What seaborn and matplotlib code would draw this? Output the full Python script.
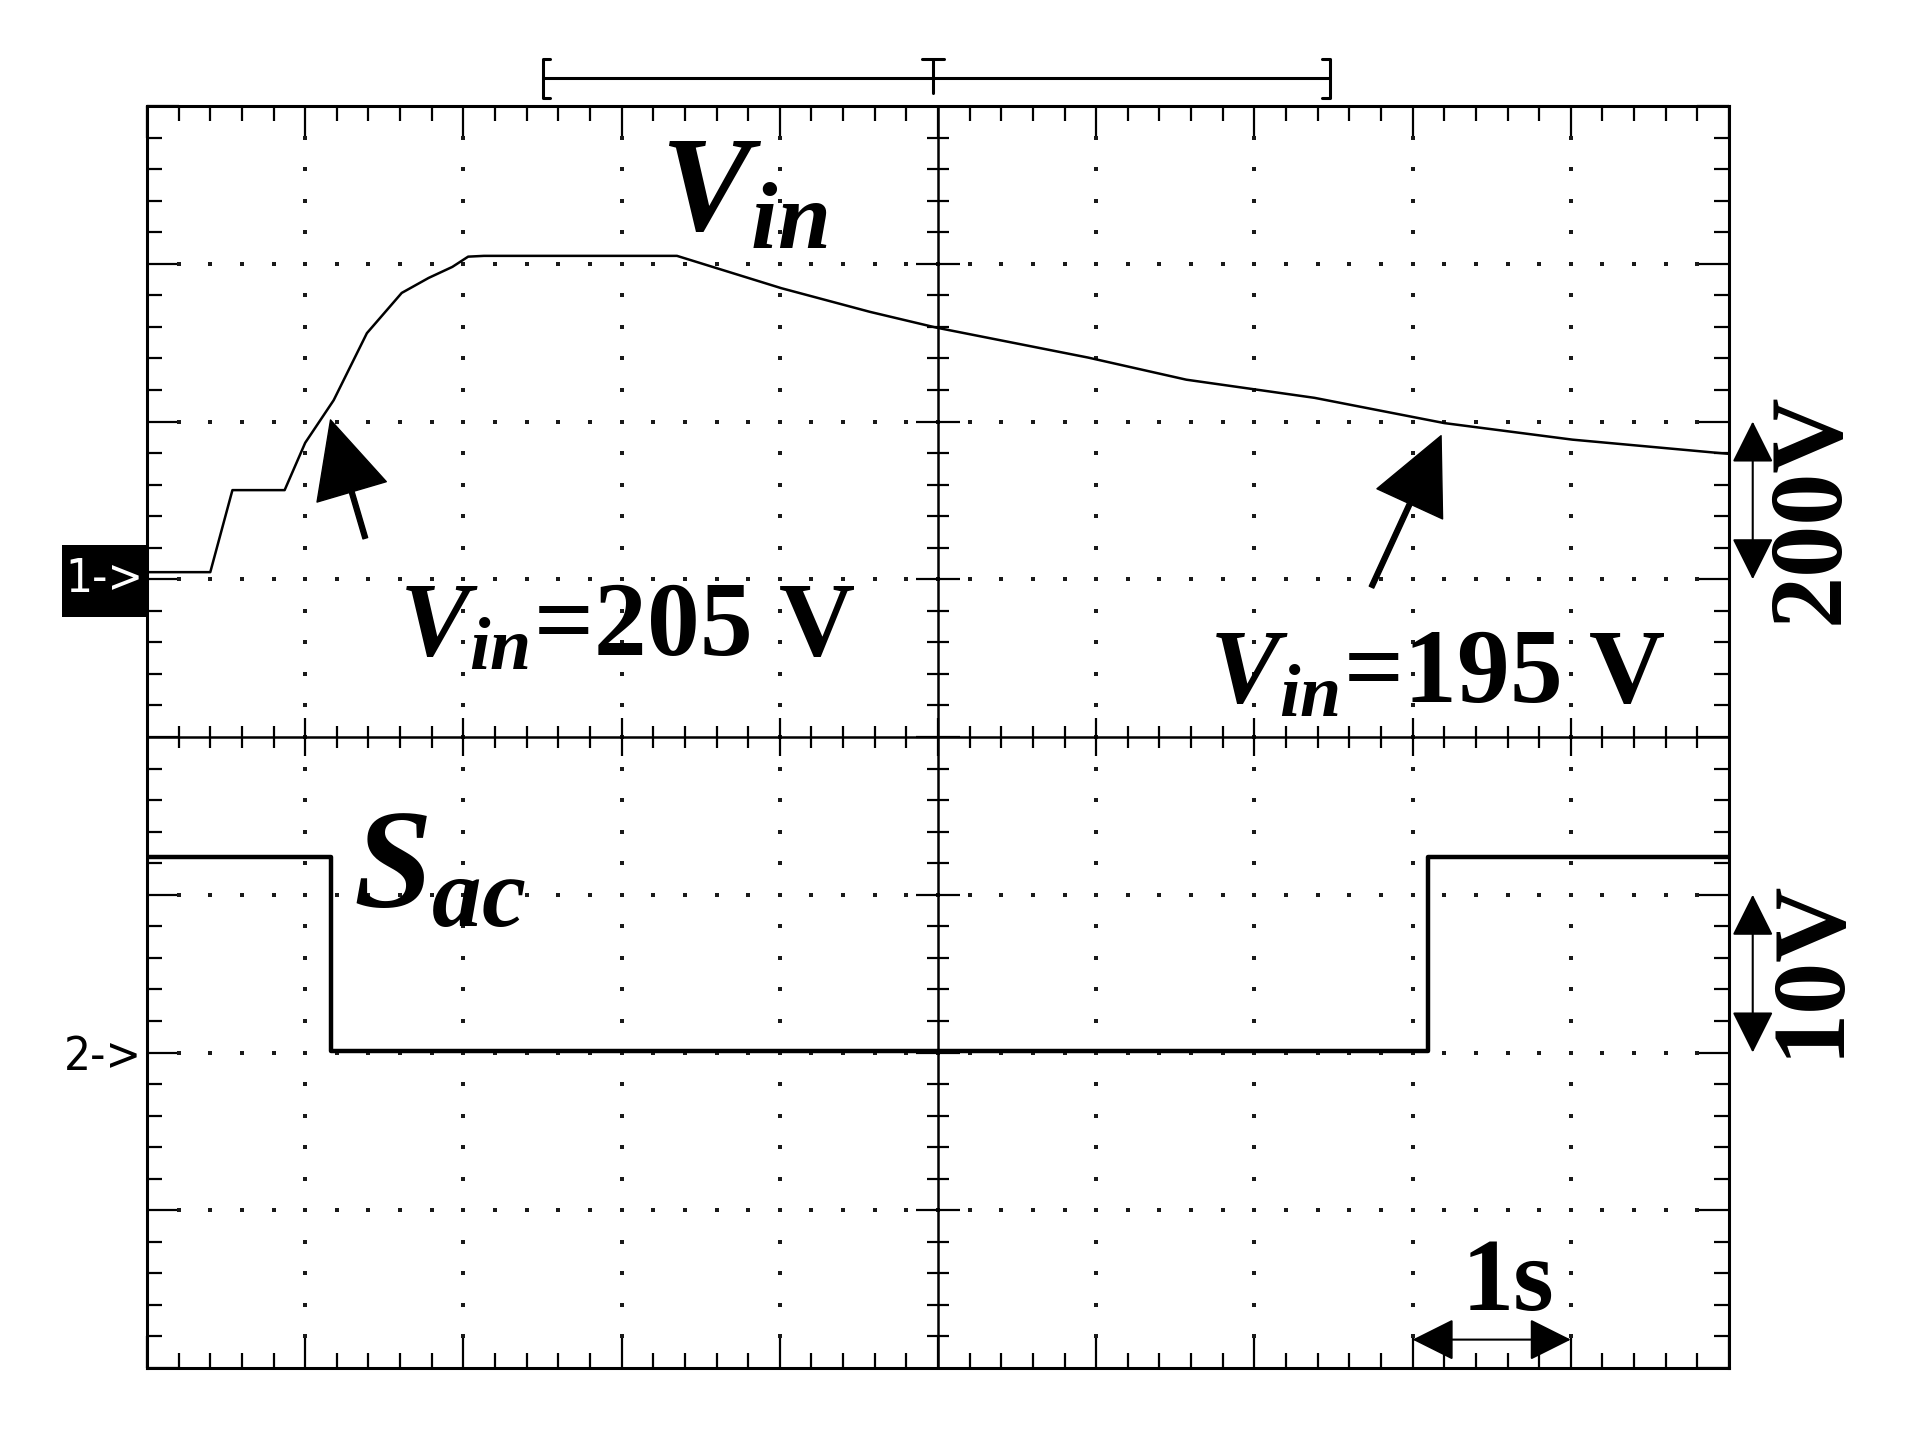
import numpy as np
import pandas as pd
import matplotlib
matplotlib.use('Agg')
import matplotlib.pyplot as plt
from matplotlib.ticker import MultipleLocator
from matplotlib.patches import Rectangle
import seaborn as sns

# ---- data (time in s, 1 s/div) ----
ch1_t = [0.00, 0.40, 0.54, 0.87, 1.00, 1.18, 1.39, 1.61, 1.78, 1.93, 2.03, 2.13,
         3.35, 4.01, 4.57, 4.99, 5.95, 6.57, 7.38, 8.20, 9.01, 9.94, 10.00]
ch1_v = [9, 9, 113, 113, 173, 227, 312, 363, 382, 396, 409, 410,
         410, 369, 339, 319, 281, 253, 230, 198, 177, 160, 159]   # V_in, volts

ch2_t = [0.00, 1.16, 1.16, 8.10, 8.10, 10.00]
ch2_v = [12.4, 12.4, 0.1, 0.1, 12.4, 12.4]                      # S_ac, volts

ch1_scale = 200   # V/div
ch2_scale = 10    # V/div
ch1_ground = 1    # div (marker 1->)
ch2_ground = -2   # div (marker 2->)

df1 = pd.DataFrame({'t': ch1_t, 'div': np.array(ch1_v) / ch1_scale + ch1_ground})
df2 = pd.DataFrame({'t': ch2_t, 'div': np.array(ch2_v) / ch2_scale + ch2_ground})

# ---- style ----
sns.set_style('white')
plt.rcParams['font.family'] = ['Liberation Serif', 'DejaVu Serif']
plt.rcParams['text.color'] = 'black'
plt.rcParams['mathtext.fontset'] = 'custom'
plt.rcParams['mathtext.it'] = 'Liberation Serif:italic:bold'
plt.rcParams['mathtext.rm'] = 'Liberation Serif:bold'
plt.rcParams['mathtext.bf'] = 'Liberation Serif:bold'

fig = plt.figure(figsize=(19.21, 14.51), dpi=100)
ax = fig.add_axes([147 / 1921, 1 - 1368 / 1451, 1582 / 1921, 1262 / 1451])
ax.set_xlim(0, 10)
ax.set_ylim(-4, 4)

# graticule: frame + ticks
for sp in ax.spines.values():
    sp.set_linewidth(2.2)
    sp.set_color('black')
ax.xaxis.set_major_locator(MultipleLocator(1))
ax.yaxis.set_major_locator(MultipleLocator(1))
ax.xaxis.set_minor_locator(MultipleLocator(0.2))
ax.yaxis.set_minor_locator(MultipleLocator(0.2))
ax.tick_params(which='both', direction='in', top=True, right=True, bottom=True, left=True,
               labelbottom=False, labelleft=False, color='black')
ax.tick_params(which='major', length=23, width=1.6)
ax.tick_params(which='minor', length=11, width=1.6)

# center cross
ax.axhline(0, color='black', lw=1.8, zorder=2)
ax.axvline(5, color='black', lw=1.8, zorder=2)
minor = np.round(np.arange(0.2, 10, 0.2), 2)
minor_x = minor[np.abs(minor - np.round(minor)) > 0.01]
major_x = np.arange(1, 10)
ax.plot(minor_x, np.zeros_like(minor_x), ls='none', marker='|', ms=16, mew=1.6, color='black')
ax.plot(major_x, np.zeros_like(major_x), ls='none', marker='|', ms=27, mew=1.6, color='black')
minor_y = np.round(np.arange(-3.8, 4, 0.2), 2)
major_y = np.arange(-3, 4)
minor_y = minor_y[np.abs(minor_y - np.round(minor_y)) > 0.01]
ax.plot(np.full_like(minor_y, 5), minor_y, ls='none', marker='_', ms=16, mew=1.6, color='black')
ax.plot(np.full_like(major_y, 5.0), major_y, ls='none', marker='_', ms=31, mew=1.6, color='black')

# dotted grid lines
ys = np.round(np.arange(-3.8, 4, 0.2), 2)
for gx in [1, 2, 3, 4, 6, 7, 8, 9]:
    ax.plot(np.full_like(ys, gx), ys, ls='none', marker='s', ms=2.4, mew=0, color='#1a1a1a', zorder=1)
xs = np.round(np.arange(0.2, 10, 0.2), 2)
for gy in [-3, -2, -1, 1, 2, 3]:
    ax.plot(xs, np.full_like(xs, gy), ls='none', marker='s', ms=2.4, mew=0, color='#1a1a1a', zorder=1)

# traces
sns.lineplot(data=df1, x='t', y='div', estimator=None, sort=False, color='black', lw=1.8, ax=ax, zorder=4)
sns.lineplot(data=df2, x='t', y='div', estimator=None, sort=False, color='black', lw=3.2, ax=ax, zorder=4)
ax.set_xlabel('')
ax.set_ylabel('')

# labels
ax.text(3.24, 3.21, r'$V_{in}$', fontsize=98, ha='left', va='baseline', zorder=5)
ax.text(1.30, -1.08, r'$S_{ac}$', fontsize=102, ha='left', va='baseline', zorder=5)
ax.text(1.59, 0.52, r'$V_{in}$=205 V', fontsize=76, fontweight='bold', ha='left', va='baseline', zorder=5)
ax.text(6.71, 0.22, r'$V_{in}$=195 V', fontsize=76, fontweight='bold', ha='left', va='baseline', zorder=5)

arrow_kw = dict(facecolor='black', edgecolor='black', width=3.5, headwidth=52, headlength=54, shrink=0)
ax.annotate('', xy=(1.16, 2.01), xytext=(1.38, 1.26), arrowprops=arrow_kw)
ax.annotate('', xy=(8.18, 1.91), xytext=(7.74, 0.95), arrowprops=arrow_kw)

# scale markers
dbl = dict(arrowstyle='<|-|>', mutation_scale=66, lw=1.5, color='black', shrinkA=0, shrinkB=0)
ax.annotate('', xy=(10.15, 2.0), xytext=(10.15, 1.0), arrowprops=dbl, annotation_clip=False)
ax.annotate('', xy=(10.15, -1.0), xytext=(10.15, -2.0), arrowprops=dbl, annotation_clip=False)
ax.annotate('', xy=(9.0, -3.82), xytext=(8.0, -3.82), arrowprops=dbl, annotation_clip=False)
ax.text(10.53, 1.45, '200V', fontsize=75, fontweight='bold', rotation=90,
        ha='center', va='center', clip_on=False)
ax.text(10.52, -1.46, '10V', fontsize=75, fontweight='bold', rotation=90,
        ha='center', va='center', clip_on=False)
ax.text(8.60, -3.63, '1s', fontsize=75, fontweight='bold', ha='center', va='baseline')

# channel markers
ax.add_patch(Rectangle((-0.54, 0.76), 0.54, 0.46, facecolor='black', edgecolor='none',
                       clip_on=False, zorder=5))
ax.text(-0.27, 1.0, '1->', color='white', fontsize=34, ha='center', va='center',
        family='DejaVu Sans', fontstretch='condensed', clip_on=False, zorder=6)
ax.text(-0.28, -2.03, '2->', color='black', fontsize=34, ha='center', va='center',
        family='DejaVu Sans', fontstretch='condensed', clip_on=False)

# trigger window bracket above the screen
bx0, bx1, by = 2.50, 7.48, 4.18
ax.plot([bx0, bx1], [by, by], color='black', lw=2.2, clip_on=False)
ax.plot([bx0 + 0.05, bx0, bx0, bx0 + 0.05], [4.30, 4.30, 4.05, 4.05], color='black', lw=2.2, clip_on=False)
ax.plot([bx1 - 0.05, bx1, bx1, bx1 - 0.05], [4.30, 4.30, 4.05, 4.05], color='black', lw=2.2, clip_on=False)
ax.plot([4.97, 4.97], [4.30, 4.08], color='black', lw=2.2, clip_on=False)
ax.plot([4.90, 5.04], [4.30, 4.30], color='black', lw=2.2, clip_on=False)

fig.savefig('out.png', dpi=100)
